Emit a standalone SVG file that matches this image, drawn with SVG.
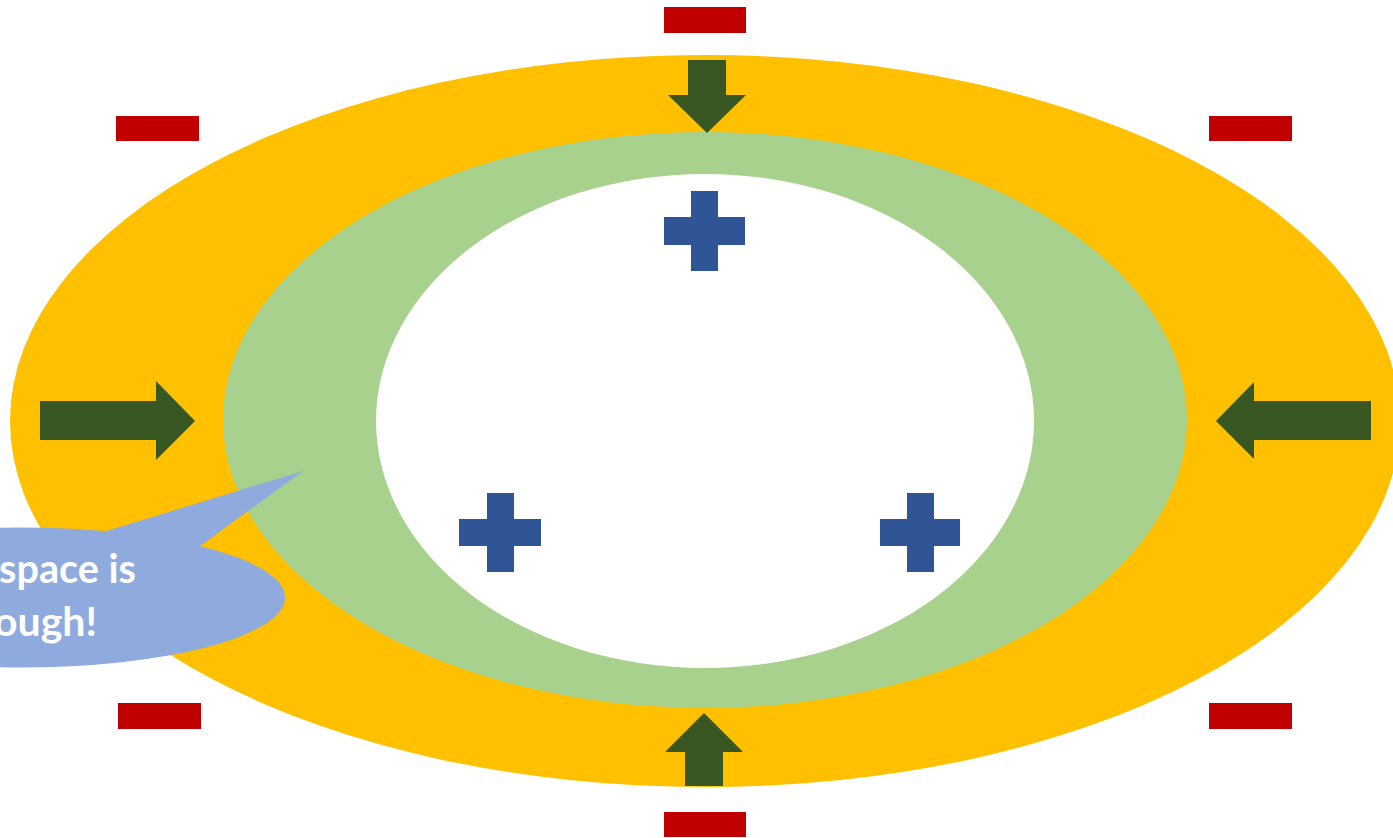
<svg xmlns="http://www.w3.org/2000/svg" width="1393" height="838" viewBox="0 0 1393 838">
<style>
.minus{fill:#C00000}
.arrow{fill:#385723}
.plus{fill:#2F5597}
.label{font-family:Lato,"Open Sans",sans-serif;font-weight:bold;font-size:41px;fill:#FFFFFF}
</style>
<rect width="1393" height="838" fill="#FFFFFF"/>
<g id="outer"><ellipse cx="705" cy="421" rx="695" ry="366" fill="#FFC000"/></g>
<g id="middle"><ellipse cx="705" cy="420" rx="482" ry="288" fill="#A9D18E"/></g>
<g id="inner"><ellipse cx="705" cy="421" rx="329" ry="247" fill="#FFFFFF"/></g>
<g id="minus-signs">
<rect class="minus" x="664" y="7" width="82" height="26"/>
<rect class="minus" x="664" y="812" width="82" height="25"/>
<rect class="minus" x="116" y="116" width="83" height="25"/>
<rect class="minus" x="1209" y="116" width="83" height="25"/>
<rect class="minus" x="118" y="703" width="83" height="26"/>
<rect class="minus" x="1209" y="703" width="83" height="26"/>
</g>
<g id="connectors">
<polygon class="arrow" points="688,60 726,60 726,95 746,95 707,133 668,95 688,95"/>
<polygon class="arrow" points="685,786 723,786 723,752 743,752 704,713 665,752 685,752"/>
<polygon class="arrow" points="1371,401 1371,440 1254,440 1254,459 1216,421 1254,382 1254,401"/>
<polygon class="arrow" points="40,401 156,401 156,381 195,421 156,460 156,440 40,440"/>
</g>
<g id="plus-signs">
<path class="plus" d="M691,191h27v26h27v28h-27v26h-27v-26h-27v-28h27z"/>
<path class="plus" d="M487,493h27v26h27v27h-27v26h-27v-26h-28v-27h28z"/>
<path class="plus" d="M907,493h27v26h26v27h-26v26h-27v-26h-27v-27h27z"/>
</g>
<g id="callout">
<ellipse cx="20" cy="597.5" rx="265" ry="70" fill="#8FAADC"/>
<polygon points="100,533 303,471 200,546 180,560" fill="#8FAADC"/>
<text class="label" x="-1" y="583" textLength="137" lengthAdjust="spacingAndGlyphs">space is</text>
<text class="label" x="97" y="636" text-anchor="end">ough!</text>
</g>
</svg>
